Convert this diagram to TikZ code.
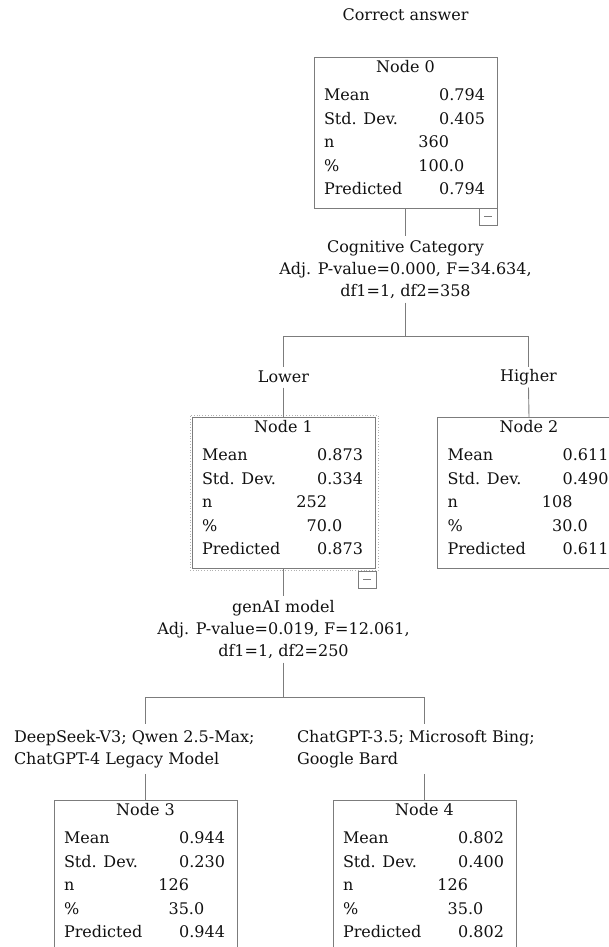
\documentclass[tikz,border=0pt]{standalone}
\usepackage{fontspec}
\setmainfont{DejaVu Serif}
\usetikzlibrary{calc}
\definecolor{txt}{HTML}{111111}
\definecolor{ln}{HTML}{7C7C7C}
\tikzset{
  box/.style={draw=ln, line width=0.9pt, inner sep=0pt, outer sep=0pt, anchor=north west,
              minimum width=183pt, minimum height=151pt},
  minusbox/.style={draw=ln, line width=0.9pt, inner sep=0pt, outer sep=0pt, anchor=north east,
              minimum width=18pt, minimum height=17pt},
  selframe/.style={draw=ln!60, dotted, line width=0.8pt, inner sep=0pt, outer sep=0pt, anchor=north west,
              minimum width=188pt, minimum height=155pt},
  conn/.style={draw=ln, line width=0.9pt},
  lbl/.style={text=txt, inner sep=0pt, outer sep=0pt, font=\fontsize{16}{22}\selectfont},
  split/.style={lbl, align=center, inner ysep=4pt},
  branch/.style={lbl, minimum height=21pt},
  group/.style={lbl, align=left, inner ysep=6pt, anchor=west},
}
\newcommand{\statbox}[9]{%
  \node[box] (#1) at (#2,#3) {};
  \node[lbl, anchor=mid] (#1-title) at ([shift={(91.5,13)}]#1.north west) {#4};
  \node[lbl, anchor=mid west] (#1-lm) at ([shift={(10,41)}]#1.north west) {Mean};
  \node[lbl, anchor=mid west] (#1-ls) at ([shift={(10,64.5)}]#1.north west) {Std. Dev.};
  \node[lbl, anchor=mid west] (#1-ln) at ([shift={(10,88)}]#1.north west) {n};
  \node[lbl, anchor=mid west] (#1-lp) at ([shift={(10,111.5)}]#1.north west) {\%};
  \node[lbl, anchor=mid west] (#1-lr) at ([shift={(10,135)}]#1.north west) {Predicted};
  \node[lbl, anchor=mid east] (#1-vm) at ([shift={(-12,41)}]#1.north east) {#5};
  \node[lbl, anchor=mid east] (#1-vs) at ([shift={(-12,64.5)}]#1.north east) {#6};
  \node[lbl, anchor=mid east] (#1-vn) at ([shift={(135,88)}]#1.north west) {#7};
  \node[lbl, anchor=mid west] (#1-vp) at ([shift={(135,111.5)}]#1.north west) {\llap{#8}.0};
  \node[lbl, anchor=mid east] (#1-vr) at ([shift={(-12,135)}]#1.north east) {#9};
}
\begin{document}
\begin{tikzpicture}[x=1pt, y=-1pt]
  \useasboundingbox (0,0) rectangle (609,947);

  \node[lbl] (title) at (405.5,15) {Correct answer};

  % level 0
  \statbox{n0}{314}{57}{Node 0}{0.794}{0.405}{360}{100}{0.794}
  \node[minusbox] (m0) at (n0.south east) {\textcolor{ln}{\rule{8pt}{1pt}}};

  \node[split] (cc) at (405.5,269.5) {Cognitive Category\\Adj. P-value=0.000, F=34.634,\\df1=1, df2=358};
  \coordinate (j0) at (405.5,336);
  \coordinate (jL) at (283.5,336);
  \coordinate (jR) at (528.5,336);
  \node[branch] (lower) at (283.5,377) {Lower};
  \node[branch] (higher) at (528.5,377) {Higher};

  % level 1
  \statbox{n1}{192}{417}{Node 1}{0.873}{0.334}{252}{70}{0.873}
  \statbox{n2}{437.5}{417}{Node 2}{0.611}{0.490}{108}{30}{0.611}
  \node[selframe] (sel) at (190,415) {};
  \node[minusbox] (m1) at (376,571) {\textcolor{ln}{\rule{8pt}{1pt}}};

  \node[split] (ga) at (283.5,629.5) {genAI model\\Adj. P-value=0.019, F=12.061,\\df1=1, df2=250};
  \coordinate (j1) at (283.5,697);
  \coordinate (j3) at (145.5,697);
  \coordinate (j4) at (424.5,697);
  \node[group] (gl) at (14,749) {DeepSeek-V3; Qwen 2.5-Max;\\ChatGPT-4 Legacy Model};
  \node[group] (gr) at (297,749) {ChatGPT-3.5; Microsoft Bing;\\Google Bard};

  % level 2
  \statbox{n3}{54}{800}{Node 3}{0.944}{0.230}{126}{35}{0.944}
  \statbox{n4}{333}{800}{Node 4}{0.802}{0.400}{126}{35}{0.802}

  % connectors
  \draw[conn] (n0.south) -- (cc.north);
  \draw[conn] (cc.south) -- (j0);
  \draw[conn] (jL) -- (jR);
  \draw[conn] (jL) -- (lower.north);
  \draw[conn] (jR) -- (higher.north);
  \draw[conn] (lower.south) -- (n1.north);
  \draw[conn] (higher.south) -- (n2.north);

  \draw[conn] (n1.south) -- (ga.north);
  \draw[conn] (ga.south) -- (j1);
  \draw[conn] (j3) -- (j4);
  \draw[conn] (j3) -- (j3 |- gl.north);
  \draw[conn] (j4) -- (j4 |- gr.north);
  \draw[conn] (n3.north |- gl.south) -- (n3.north);
  \draw[conn] (n4.north |- gr.south) -- (n4.north);
\end{tikzpicture}
\end{document}
